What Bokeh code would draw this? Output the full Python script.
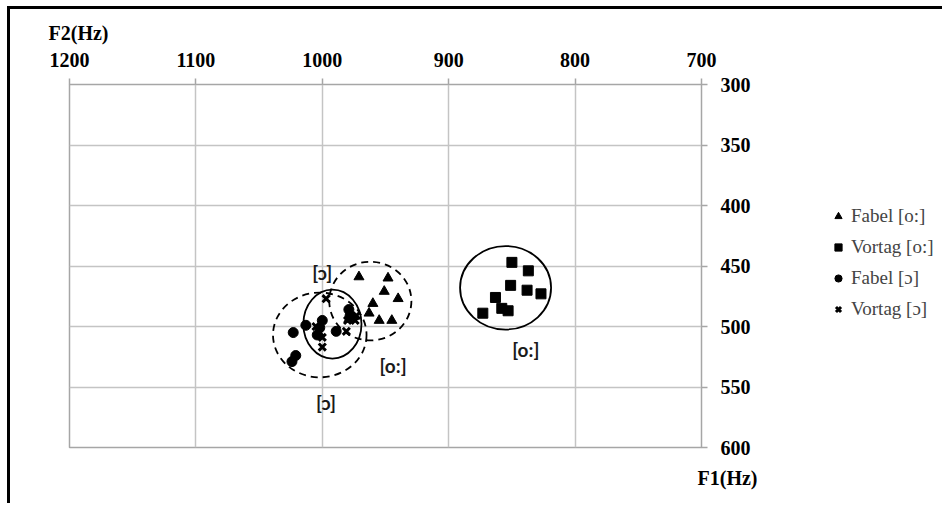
from bokeh.plotting import figure
from bokeh.models import Range1d, FixedTicker, Legend, LegendItem, Title
from bokeh.embed import file_html
from bokeh.resources import INLINE
from bokeh.core.properties import value

# Axis ticks (F2 on the horizontal axis, F1 on the vertical axis, both reversed)
f2_ticks = [1200, 1100, 1000, 900, 800, 700]
f1_ticks = [300, 350, 400, 450, 500, 550, 600]

# Fabel [o:]
fabel_o_f2 = [971, 948, 951, 940, 960, 963, 955, 945, 979]
fabel_o_f1 = [459, 460, 471, 477, 481, 489, 495, 495, 494]

# Vortag [o:]
vortag_o_f2 = [850, 837, 851, 838, 827, 863, 858, 853, 873]
vortag_o_f1 = [447, 454, 466, 470, 473, 476, 485, 487, 489]

# Fabel [ɔ]
fabel_c_f2 = [1023, 1013, 1000, 1002, 989, 979, 978, 1021, 1024, 1004]
fabel_c_f1 = [505, 499, 495, 501, 504, 486, 491, 524, 529, 507]

# Vortag [ɔ]
vortag_c_f2 = [997, 980, 974, 981, 973, 1002, 1000, 1000, 1005]
vortag_c_f1 = [477, 495, 495, 504, 491, 505, 509, 517, 500]

# Spread ellipses: centre (F2, F1), width (Hz), height (Hz)
solid_x = [855, 992]
solid_y = [468, 498]
solid_w = [72, 46]
solid_h = [69, 57]

dashed_x = [1002, 962]
dashed_y = [507, 479]
dashed_w = [74, 65]
dashed_h = [70, 65]

# Vowel annotations
vowel_text = ["[ɔ]", "[o:]", "[ɔ]", "[o:]"]
vowel_x = [1000, 944, 997, 839]
vowel_y = [455, 532, 563, 519]

series_labels = ["Fabel [o:]", "Vortag [o:]", "Fabel [ɔ]", "Vortag [ɔ]"]

SERIF = "Liberation Serif"

# Marker styles shared by the chart and the legend panel
STYLES = [
    dict(marker="triangle", size=10, color="black"),
    dict(marker="square", size=10, color="black"),
    dict(marker="circle", size=10, color="black"),
    dict(marker="x", size=10, line_color="black", line_width=3),
]

p = figure(
    width=790, height=497,
    x_range=Range1d(1200, 700), y_range=Range1d(600, 300),
    x_axis_location="above", y_axis_location="right",
    output_backend="svg", toolbar_location=None,
    min_border_left=59, min_border_right=99,
    min_border_top=75, min_border_bottom=55,
)
p.styles = {
    "border-left": "3px solid black",
    "border-top": "3px solid black",
    "margin-left": "7px",
    "margin-top": "6px",
}

p.outline_line_color = "#a6a6a6"
p.outline_line_width = 1.5
p.background_fill_color = "white"
p.border_fill_color = "white"

for ax, ticks in ((p.xaxis[0], f2_ticks), (p.yaxis[0], f1_ticks)):
    ax.ticker = FixedTicker(ticks=ticks)
    ax.axis_line_color = None
    ax.major_tick_in = 0
    ax.major_tick_out = 6
    ax.major_tick_line_color = "#a6a6a6"
    ax.major_tick_line_width = 1.5
    ax.minor_tick_line_color = None
    ax.major_label_text_font = SERIF
    ax.major_label_text_font_style = "bold"
    ax.major_label_text_font_size = "20px"
    ax.major_label_text_color = "black"

p.xaxis[0].major_label_standoff = 12
p.yaxis[0].major_label_standoff = 13

p.xgrid.ticker = FixedTicker(ticks=f2_ticks)
p.ygrid.ticker = FixedTicker(ticks=f1_ticks)
for g in (p.xgrid, p.ygrid):
    g.grid_line_color = "#c4c4c4"
    g.grid_line_width = 1.5

# Ellipses
p.ellipse(x=solid_x, y=solid_y, width=solid_w, height=solid_h,
          fill_color=None, line_color="black", line_width=1.8)
p.ellipse(x=dashed_x, y=dashed_y, width=dashed_w, height=dashed_h,
          fill_color=None, line_color="black", line_width=1.8, line_dash="7 5")

# Measurements
series = [
    (fabel_o_f2, fabel_o_f1),
    (vortag_o_f2, vortag_o_f1),
    (fabel_c_f2, fabel_c_f1),
    (vortag_c_f2, vortag_c_f1),
]
for (xs, ys), st in zip(series, STYLES):
    p.scatter(xs, ys, **st)

p.text(x=vowel_x, y=vowel_y, text=vowel_text,
       text_font=value("Lato"), text_font_style="bold",
       text_font_size="19px", text_color="#1a1a1a",
       text_align="center", text_baseline="middle")

# Axis titles
p.add_layout(Title(text="F2(Hz)", align="left", offset=-21, standoff=11,
                   text_font=SERIF, text_font_style="bold",
                   text_font_size="20px", text_color="black"), "above")
p.add_layout(Title(text="F1(Hz)", align="left", offset=628, standoff=35,
                   text_font=SERIF, text_font_style="bold",
                   text_font_size="20px", text_color="black"), "below")

# Legend panel, placed to the right of the chart
lg = figure(
    width=146, height=497,
    x_range=Range1d(0, 1), y_range=Range1d(0, 1),
    x_axis_type=None, y_axis_type=None,
    output_backend="svg", toolbar_location=None,
    min_border=0,
)
lg.styles = {
    "position": "absolute",
    "left": "796px",
    "top": "6px",
    "border-top": "3px solid black",
}
lg.outline_line_color = None
lg.xgrid.visible = False
lg.ygrid.visible = False
lg.border_fill_color = "white"

nan = float("nan")
items = []
for label, st in zip(series_labels, STYLES):
    # key glyph only: an undrawn point that carries the marker style
    r = lg.scatter(x=[nan], y=[nan], **st)
    items.append(LegendItem(label=label, renderers=[r]))

legend = Legend(
    items=items,
    location=(33, 186),
    label_text_font=SERIF, label_text_font_size="19px",
    label_height=20, glyph_height=20, glyph_width=18,
    spacing=9, padding=0, margin=0, label_standoff=4,
    border_line_color=None, background_fill_alpha=0,
)
lg.add_layout(legend, "center")

open("out.html", "w").write(file_html([p, lg], INLINE))
